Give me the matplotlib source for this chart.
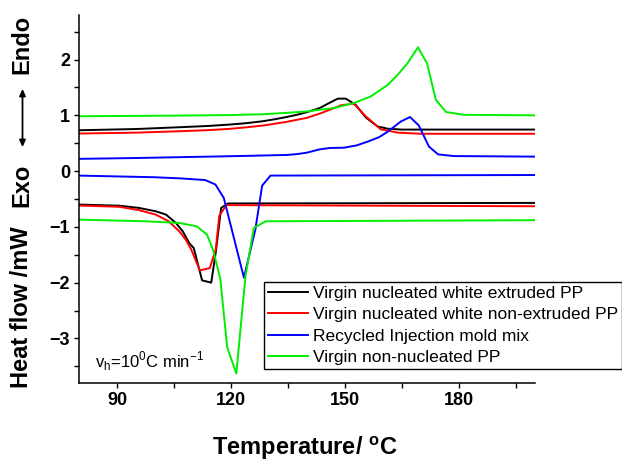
import matplotlib
matplotlib.use("Agg")
import matplotlib.pyplot as plt
from matplotlib.ticker import MultipleLocator

plt.rcParams['font.family'] = ['Liberation Sans', 'DejaVu Sans']
plt.rcParams['mathtext.fontset'] = 'custom'
plt.rcParams['mathtext.rm'] = 'Liberation Sans'
plt.rcParams['mathtext.bf'] = 'Liberation Sans:bold'

labels = ["Virgin nucleated white extruded PP",
          "Virgin nucleated white non-extruded PP",
          "Recycled Injection mold mix",
          "Virgin non-nucleated PP"]
colors = ["#000000", "#ff0000", "#0000ff", "#00ee00"]

# Heating (endotherm) curves
black_heat_x = [80, 95, 106.4, 114, 119.6, 124, 128.3, 131.5, 134.6, 137.3, 139.9, 143.3, 145.8, 148.1, 150.2, 152.8, 155.5, 158.6, 161.3, 165, 200]
black_heat_y = [0.733, 0.755, 0.787, 0.81, 0.835, 0.86, 0.894, 0.93, 0.97, 1.01, 1.056, 1.13, 1.22, 1.30, 1.30, 1.19, 0.96, 0.80, 0.76, 0.745, 0.745]
red_heat_x = [80, 95, 106.4, 114, 119.6, 124, 128.3, 131.5, 134.6, 137.3, 139.9, 143.3, 146, 148.9, 152.3, 155.5, 159.4, 163.9, 170, 200]
red_heat_y = [0.674, 0.69, 0.715, 0.735, 0.758, 0.785, 0.817, 0.85, 0.883, 0.92, 0.955, 1.03, 1.10, 1.18, 1.21, 0.98, 0.75, 0.69, 0.67, 0.67]
blue_heat_x = [80, 95, 106.4, 119.6, 128.3, 134.6, 137.3, 139.9, 143.3, 146, 149.7, 153, 156, 159, 161.3, 164.7, 167.1, 169.4, 172.1, 174.5, 178.7, 200]
blue_heat_y = [0.22, 0.235, 0.25, 0.267, 0.28, 0.29, 0.305, 0.33, 0.39, 0.415, 0.42, 0.46, 0.53, 0.61, 0.71, 0.89, 0.97, 0.82, 0.44, 0.30, 0.27, 0.26]
green_heat_x = [80, 106.4, 119.6, 128.3, 134.6, 139.9, 143.3, 147, 152.3, 156.8, 161.3, 163.9, 166.5, 169.2, 171.6, 173.9, 176.6, 181.3, 200]
green_heat_y = [0.984, 0.996, 1.005, 1.02, 1.045, 1.07, 1.10, 1.13, 1.22, 1.34, 1.55, 1.73, 1.94, 2.22, 1.93, 1.28, 1.06, 1.01, 1.00]

# Cooling (exotherm) curves
black_cool_x = [80, 90.6, 95.8, 100.2, 102.9, 105.5, 107.3, 109.0, 110.2, 112.4, 114.8, 116.1, 117.4, 119.2, 200]
black_cool_y = [-0.60, -0.62, -0.66, -0.72, -0.78, -0.93, -1.08, -1.29, -1.38, -1.96, -2.00, -1.40, -0.66, -0.58, -0.57]
red_cool_x = [80, 90.6, 95.8, 100.2, 103.6, 106.4, 108.1, 109.5, 111.8, 114.4, 116.0, 116.9, 118.8, 200]
red_cool_y = [-0.617, -0.64, -0.70, -0.78, -0.90, -1.08, -1.23, -1.40, -1.78, -1.74, -1.40, -0.80, -0.61, -0.63]
blue_cool_x = [80, 100, 106.6, 113.2, 115.9, 118.1, 123.4, 126.4, 128.2, 130.4, 200]
blue_cool_y = [-0.08, -0.11, -0.13, -0.16, -0.24, -0.48, -1.91, -1.05, -0.26, -0.08, -0.07]
green_cool_x = [80, 97.6, 106.4, 111.0, 113.7, 115.4, 117.2, 119.0, 121.4, 123.8, 126.0, 129.1, 200]
green_cool_y = [-0.87, -0.90, -0.93, -0.99, -1.14, -1.44, -1.94, -3.16, -3.63, -1.89, -1.02, -0.90, -0.88]

x_ticks = [90, 120, 150, 180]
y_ticks = [-3, -2, -1, 0, 1, 2]

fig = plt.figure(figsize=(6.22, 4.63), dpi=100)
ax = fig.add_axes([79/622, 1-383/463, (535-79)/622, (383-15)/463])

heat = [(black_heat_x, black_heat_y), (red_heat_x, red_heat_y),
        (blue_heat_x, blue_heat_y), (green_heat_x, green_heat_y)]
cool = [(black_cool_x, black_cool_y), (red_cool_x, red_cool_y),
        (blue_cool_x, blue_cool_y), (green_cool_x, green_cool_y)]

handles = []
for (hx, hy), (cx, cy), c, lab in zip(heat, cool, colors, labels):
    h, = ax.plot(hx, hy, color=c, lw=1.4, label=lab)
    ax.plot(cx, cy, color=c, lw=1.4)
    handles.append(h)

ax.set_xlim(80, 200)
ax.set_ylim(-3.8, 2.8)
ax.set_xticks(x_ticks)
ax.set_yticks(y_ticks)
ax.xaxis.set_minor_locator(MultipleLocator(15))
ax.yaxis.set_minor_locator(MultipleLocator(0.5))
for s in ['top', 'right']:
    ax.spines[s].set_visible(False)
for s in ['left', 'bottom']:
    ax.spines[s].set_linewidth(1.1)
ax.tick_params(which='both', direction='out', length=3.5, width=1.0)
ax.tick_params(axis='both', which='major', labelsize=13, pad=3)
for t in ax.get_xticklabels() + ax.get_yticklabels():
    t.set_fontweight('bold')

ax.text(95/622, 1-367/463, r'v$_\mathregular{h}$=10$^\mathregular{0}$C min$^\mathregular{-1}$',
        transform=fig.transFigure, fontsize=12, ha='left', va='baseline')

fig.text(0.49, 1-448/463, r'Temperature/ $^\mathbf{o}$C', fontsize=17,
         fontweight='bold', ha='center', va='center')

fig.text(22/622, 1-307/463, 'Heat flow /mW', rotation=90, fontsize=17,
         fontweight='bold', ha='center', va='center')
fig.text(22/622, 1-185/463, 'Exo', rotation=90, fontsize=17,
         fontweight='bold', ha='center', va='center')
fig.text(22/622, 1-44/463, 'Endo', rotation=90, fontsize=17,
         fontweight='bold', ha='center', va='center')
fig.patches.append(matplotlib.patches.FancyArrowPatch(
    (22.5/622, 1-150/463), (22.5/622, 1-86/463), transform=fig.transFigure,
    arrowstyle='<|-|>,head_length=4,head_width=1.8', color='black', lw=1.3,
    mutation_scale=1))

leg = ax.legend(handles=handles, loc='upper left',
                bbox_to_anchor=(264/622, 1-282/463), bbox_transform=fig.transFigure,
                borderaxespad=0, fontsize=12.5, frameon=True, fancybox=False,
                edgecolor='black', framealpha=1, handlelength=2.3,
                handletextpad=0.3, labelspacing=0.36, borderpad=0.22)
leg.get_frame().set_linewidth(1.0)

fig.savefig('out.png', dpi=100)
